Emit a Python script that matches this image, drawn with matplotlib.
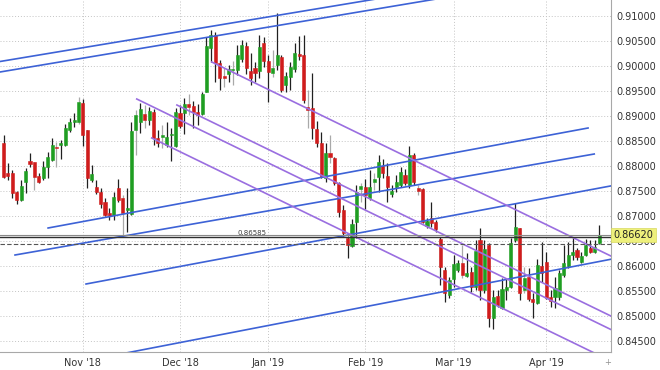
import matplotlib
matplotlib.use("Agg")
import matplotlib.pyplot as plt
import matplotlib.transforms as mtransforms
import numpy as np
import pandas as pd

# daily EUR/GBP bars, weekends plus Christmas and New Year removed
days = pd.bdate_range("2018-10-08", "2019-04-17")
days = days[~days.isin(pd.to_datetime(["2018-12-25", "2019-01-01"]))]

opens = [
    .8846, .8786, .8786, .8748, .8732, .8768, .8810, .8808, .8780, .8776,
    .8798, .8812, .8838, .8842, .8842, .8872, .8888, .8888, .8926, .8872,
    .8772, .8758, .8748, .8728, .8706, .8702, .8756, .8736, .8712, .8704,
    .8872, .8888, .8904, .8892, .8908, .8856, .8858, .8842, .8862, .8840,
    .8906, .8906, .8924, .8920, .8908, .8904, .8948, .9036, .9062, .9006,
    .8980, .8984, .8992, .8992, .9014, .9040, .8990, .8996, .8990, .9046,
    .9010, .8986, .9002, .9018, .8962, .8978, .8994, .9024, .9022, .8918,
    .8916, .8874, .8846, .8776, .8826, .8816, .8766, .8712, .8656, .8640,
    .8688, .8754, .8758, .8736, .8768, .8778, .8800, .8780, .8744, .8758,
    .8762, .8782, .8762, .8822, .8756, .8754, .8680, .8696, .8688, .8654,
    .8592, .8542, .8574, .8592, .8606, .8580, .8588, .8558, .8652, .8552,
    .8642, .8496, .8540, .8516, .8552, .8558, .8652, .8676, .8552, .8578,
    .8534, .8526, .8600, .8608, .8538, .8538, .8538, .8582, .8600, .8622,
    .8632, .8608, .8622, .8636, .8628, .8646,
]
highs = [
    .8862, .8806, .8792, .8750, .8772, .8796, .8826, .8808, .8786, .8810,
    .8828, .8856, .8848, .8852, .8884, .8896, .8906, .8938, .8934, .8872,
    .8802, .8772, .8756, .8736, .8716, .8748, .8774, .8742, .8756, .8888,
    .8912, .8926, .8922, .8918, .8914, .8872, .8882, .8888, .8876, .8916,
    .8922, .8936, .8944, .8930, .8924, .8948, .9058, .9072, .9068, .9012,
    .8996, .9002, .9010, .9042, .9052, .9048, .9026, .9008, .9062, .9058,
    .9022, .9032, .9106, .9022, .8988, .9008, .9046, .9060, .9062, .8952,
    .8986, .8890, .8868, .8846, .8862, .8818, .8768, .8722, .8660, .8694,
    .8762, .8766, .8774, .8792, .8786, .8822, .8814, .8806, .8762, .8782,
    .8798, .8794, .8840, .8826, .8762, .8756, .8696, .8728, .8692, .8658,
    .8598, .8578, .8622, .8612, .8642, .8626, .8598, .8652, .8676, .8652,
    .8646, .8552, .8552, .8576, .8576, .8656, .8726, .8676, .8598, .8596,
    .8546, .8614, .8648, .8628, .8552, .8578, .8592, .8642, .8648, .8656,
    .8636, .8628, .8654, .8652, .8652, .8682,
]
lows = [
    .8776, .8772, .8736, .8724, .8730, .8746, .8798, .8752, .8766, .8772,
    .8776, .8810, .8798, .8814, .8840, .8868, .8878, .8884, .8840, .8756,
    .8768, .8744, .8716, .8700, .8692, .8692, .8728, .8660, .8668, .8702,
    .8822, .8866, .8876, .8882, .8842, .8838, .8836, .8838, .8810, .8838,
    .8876, .8864, .8902, .8876, .8882, .8902, .8948, .9008, .8968, .8952,
    .8958, .8968, .8962, .8982, .9008, .8984, .8962, .8968, .8976, .8998,
    .8928, .8978, .8992, .8948, .8948, .8952, .8988, .9012, .8926, .8876,
    .8854, .8838, .8776, .8768, .8806, .8762, .8698, .8660, .8616, .8638,
    .8656, .8728, .8714, .8732, .8752, .8748, .8776, .8728, .8738, .8748,
    .8758, .8762, .8756, .8762, .8742, .8686, .8676, .8678, .8668, .8562,
    .8528, .8536, .8558, .8588, .8576, .8578, .8548, .8552, .8532, .8546,
    .8478, .8474, .8518, .8514, .8532, .8556, .8648, .8532, .8546, .8530,
    .8496, .8524, .8568, .8534, .8518, .8516, .8532, .8578, .8596, .8612,
    .8612, .8606, .8620, .8626, .8626, .8644,
]
closes = [
    .8778, .8780, .8746, .8732, .8760, .8790, .8804, .8778, .8768, .8798,
    .8818, .8842, .8836, .8846, .8876, .8888, .8892, .8928, .8862, .8776,
    .8784, .8748, .8724, .8702, .8700, .8738, .8732, .8706, .8716, .8870,
    .8902, .8914, .8892, .8910, .8856, .8846, .8862, .8858, .8864, .8908,
    .8880, .8924, .8918, .8908, .8902, .8944, .9040, .9062, .9006, .8976,
    .8976, .8994, .8994, .9022, .9042, .8996, .8976, .8986, .9038, .9010,
    .8988, .8996, .9022, .8952, .8980, .8998, .9026, .9020, .8932, .8912,
    .8876, .8846, .8778, .8826, .8818, .8766, .8708, .8666, .8642, .8684,
    .8748, .8760, .8742, .8758, .8774, .8808, .8786, .8758, .8750, .8768,
    .8788, .8766, .8822, .8768, .8750, .8688, .8690, .8686, .8674, .8598,
    .8546, .8572, .8604, .8606, .8582, .8586, .8558, .8630, .8552, .8634,
    .8496, .8538, .8522, .8554, .8558, .8646, .8678, .8546, .8576, .8534,
    .8528, .8602, .8586, .8536, .8530, .8556, .8586, .8606, .8622, .8628,
    .8618, .8620, .8642, .8628, .8638, .8662,
]
# bars whose shadow is drawn light grey on the platform
grey_wicks = [7, 12, 17, 27, 30, 32, 36, 42, 50, 52, 61, 69, 74, 81, 84, 94, 104, 118]

# drawn trend lines as (bar index, price) end points
blue_lines = [
    ((-0.8, 0.9009), (96.7, 0.9152)),
    ((-0.8, 0.8988), (103.5, 0.9142)),
    ((10.1, 0.8676), (132.5, 0.8876)),
    ((2.6, 0.8622), (133.9, 0.8824)),
    ((18.7, 0.8564), (140.0, 0.8764)),
    ((21.9, 0.8416), (140.9, 0.8619)),
]
purple_lines = [
    ((47.2, 0.9008), (140.0, 0.8610)),
    ((39.3, 0.8922), (140.0, 0.8490)),
    ((30.2, 0.8934), (140.0, 0.8463)),
    ((33.6, 0.8856), (140.0, 0.8400)),
]
hline_level = 0.86585
last_price = 0.86620
ref_level = 0.8645

y_ticks = np.arange(0.845, 0.9101, 0.005)

o = np.array(opens)
h = np.array(highs)
l = np.array(lows)
c = np.array(closes)
x = np.arange(len(days))

fig = plt.figure(figsize=(6.6, 3.7), dpi=100)
ax = fig.add_axes([0, 18 / 370, 611 / 660, 352 / 370])

up_col = "#1f9e22"
down_col = "#d01c1c"

wick_cols = ["#a9a9a9" if i in grey_wicks else "#202020" for i in x]
ax.vlines(x, l, h, colors=wick_cols, linewidth=0.9, zorder=2)
body_lo = np.minimum(o, c)
body_h = np.maximum(np.abs(c - o), 0.00008)
cols = [up_col if cc >= oo else down_col for oo, cc in zip(o, c)]
ax.bar(x, body_h, bottom=body_lo, width=0.7, color=cols, edgecolor=cols,
       linewidth=0.4, zorder=2.5)

for (x0, y0), (x1, y1) in blue_lines:
    ax.plot([x0, x1], [y0, y1], color="#3d62d6", lw=1.2, zorder=3)
for (x0, y0), (x1, y1) in purple_lines:
    ax.plot([x0, x1], [y0, y1], color="#9a6ee0", lw=1.2, zorder=3)

ax.axhline(hline_level, color="#303030", lw=1.0, zorder=3.5)
ax.axhline(last_price, color="#8a8a8a", lw=0.8, zorder=3.4)
ax.axhline(ref_level, color="#555555", lw=0.8, dashes=(4, 2), zorder=3.4)
ax.text(59.6, hline_level + 0.0002, f"{hline_level:.5f}", fontsize=5,
        color="#404040", ha="right", va="bottom", zorder=4)

# month gridlines on the first bar of each month
month_pos = []
month_lab = []
for i, d in enumerate(days):
    if i > 0 and d.month != days[i - 1].month:
        month_pos.append(i)
        month_lab.append(d.strftime("%b '%y"))

ax.set_xlim(-0.8, 137.7)
ax.set_ylim(0.8428, 0.9132)
ax.set_xticks(month_pos)
ax.set_xticklabels(month_lab)
ax.set_yticks(y_ticks)
ax.set_yticklabels([f"{v:.5f}" for v in y_ticks])
ax.yaxis.tick_right()
ax.tick_params(axis="y", length=0, pad=4, labelsize=7, colors="#333333")
ax.tick_params(axis="x", length=0, pad=4, labelsize=7, colors="#333333")
ax.grid(True, color="#c4c4c4", lw=0.7, dashes=(1, 2))
ax.set_axisbelow(True)
for side in ("top", "left"):
    ax.spines[side].set_visible(False)
for side in ("right", "bottom"):
    ax.spines[side].set_color("#a8a8a8")
    ax.spines[side].set_linewidth(0.8)

trans = mtransforms.blended_transform_factory(ax.transAxes, ax.transData)
ax.text(1.004, last_price, f"{last_price:.5f}", transform=trans, fontsize=7,
        color="#222222", ha="left", va="center", clip_on=False, zorder=10,
        bbox=dict(boxstyle="square,pad=0.25", fc="#eef07c", ec="#d8da60", lw=0.5))
ax.text(0.995, -0.03, "+", transform=ax.transAxes, fontsize=6, color="#909090",
        ha="center", va="center", clip_on=False)

fig.savefig("out.png", dpi=100)
